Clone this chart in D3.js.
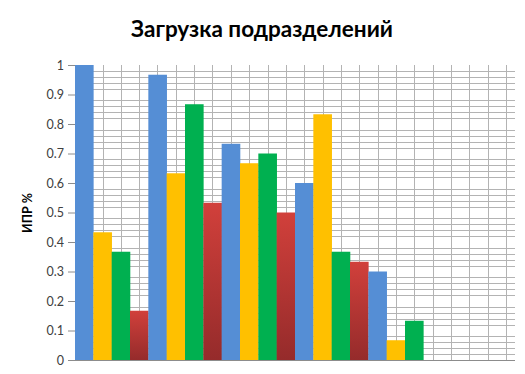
<!DOCTYPE html>
<html><head><meta charset="utf-8">
<script src="https://cdn.jsdelivr.net/npm/d3@7"></script>
<style>body{margin:0;background:#fff;}svg{display:block;}</style>
</head><body>
<svg id="c" width="525" height="374"></svg>
<script>
const title = "Загрузка подразделений";
const yTitle = "ИПР %";
const categories = ["1","2","3","4","5","6"];
const seriesNames = ["A","B","C","D"];
const seriesA = [1.0, 0.967, 0.733, 0.6, 0.3, null];
const seriesB = [0.433, 0.633, 0.667, 0.833, 0.067, null];
const seriesC = [0.367, 0.867, 0.7, 0.367, 0.133, null];
const seriesD = [0.167, 0.533, 0.5, 0.333, null, null];
const yTicks = [0,0.1,0.2,0.3,0.4,0.5,0.6,0.7,0.8,0.9,1];
const colors = ["#558ed5","#ffc000","#00b050","url(#redGrad)"];

const svg = d3.select("#c");
const W = 525, H = 374;
const m = {l:75, r:10, t:65, b:14};
const x0 = d3.scaleBand().domain(categories).range([m.l, W-m.r]).padding(0);
const x1 = d3.scaleBand().domain(seriesNames).range([0, x0.bandwidth()]).padding(0);
const y = d3.scaleLinear().domain([0,1]).range([H-m.b, m.t]);

const defs = svg.append("defs");
const g = defs.append("linearGradient").attr("id","redGrad").attr("x1",0).attr("y1",0).attr("x2",0).attr("y2",1);
g.append("stop").attr("offset","0%").attr("stop-color","#d1403b");
g.append("stop").attr("offset","100%").attr("stop-color","#952b2b");

// title
svg.append("text").attr("x", 262).attr("y", 37).attr("text-anchor","middle")
  .style("font-family","Lato, 'Open Sans', sans-serif").style("font-weight","bold").style("font-size","22.5px")
  .attr("fill","#000").text(title);

// horizontal minor gridlines
const minor = d3.range(1,50).map(i=>i/50).filter((v,i)=>((i+1)%5)!==0);
svg.append("g").selectAll("line").data(minor).join("line")
  .attr("x1", m.l).attr("x2", W-m.r)
  .attr("y1", d=>Math.round(y(d))+0.5).attr("y2", d=>Math.round(y(d))+0.5)
  .attr("stroke","#b3b3b3").attr("stroke-width",1);

// vertical gridlines at every slot center
const slots = [];
categories.forEach(c=>seriesNames.forEach(s=>slots.push(x0(c)+x1(s)+x1.bandwidth()/2)));
svg.append("g").selectAll("line").data(slots).join("line")
  .attr("x1", d=>Math.round(d)+0.5).attr("x2", d=>Math.round(d)+0.5)
  .attr("y1", y(1)).attr("y2", y(0))
  .attr("stroke","#b3b3b3").attr("stroke-width",1);

// bars
const allSeries = [seriesA, seriesB, seriesC, seriesD];
const bars = [];
categories.forEach((c,ci)=>seriesNames.forEach((s,si)=>{
  const v = allSeries[si][ci];
  if (v!=null) bars.push({c, s, v, si});
}));
svg.append("g").selectAll("rect").data(bars).join("rect")
  .attr("x", d=>x0(d.c)+x1(d.s)).attr("width", x1.bandwidth()+0.3)
  .attr("y", d=>y(d.v)).attr("height", d=>y(0)-y(d.v))
  .attr("fill", d=>colors[d.si]);

// x axis line
svg.append("line").attr("x1", m.l).attr("x2", W-m.r).attr("y1", y(0)+0.5).attr("y2", y(0)+0.5)
  .attr("stroke","#8c8c8c").attr("stroke-width",1);

// y axis
const yAxis = d3.axisLeft(y).tickValues(yTicks).tickSize(7).tickPadding(4).tickFormat(d=>String(d));
const ya = svg.append("g").attr("transform",`translate(${m.l},0)`).call(yAxis);
ya.select(".domain").remove();
ya.selectAll(".tick line").attr("stroke","#8c8c8c");
ya.selectAll(".tick text").attr("fill","#404040")
  .style("font-family","Lato, 'Open Sans', sans-serif").style("font-size","12.5px");

// y title
svg.append("text").attr("transform","translate(32,213) rotate(-90)").attr("text-anchor","middle")
  .style("font-family","Lato, 'Open Sans', sans-serif").style("font-weight","bold").style("font-size","12.5px")
  .attr("fill","#000").text(yTitle);
</script>
</body></html>
